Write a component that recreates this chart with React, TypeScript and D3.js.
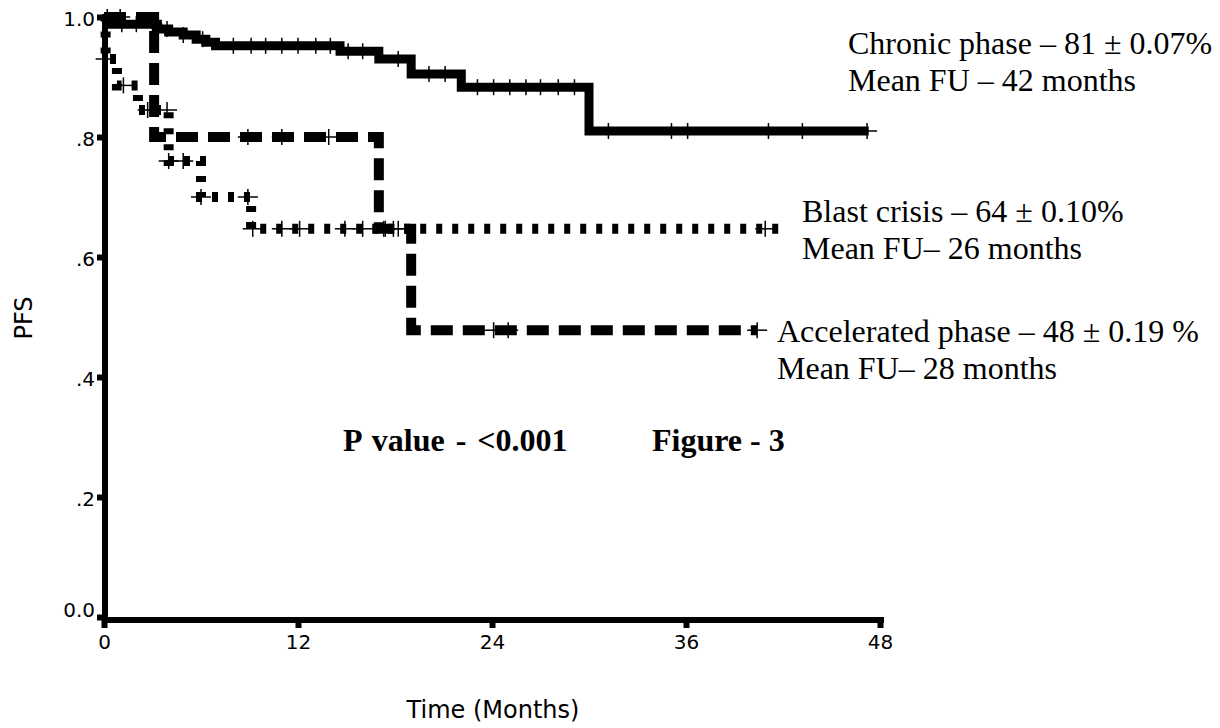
import React, { useEffect, useRef } from 'react';
import * as d3 from 'd3';

// Kaplan-Meier step points (months, PFS)
const chronicTimes = [0, 0.3, 3.3, 4.0, 4.9, 5.7, 6.3, 6.9, 14.6, 17.0, 19.0, 22.1, 30.0];
const chronicSurv = [1.0, 0.988, 0.98, 0.975, 0.97, 0.963, 0.958, 0.952, 0.943, 0.93, 0.905, 0.883, 0.81];
const chronicEnd = 47.3;
const chronicCensored = [0.2, 1.1, 2.0, 3.0, 3.9, 4.9, 6.1, 8.0, 9.1, 10.0, 11.0, 12.0, 13.1, 14.0, 15.1, 16.0, 18.2, 20.1, 21.1, 23.1, 24.1, 25.1, 26.1, 27.0, 28.1, 29.1, 31.2, 35.1, 36.1, 41.1, 43.2, 47.2];

const blastTimes = [0, 0.1, 0.8, 2.1, 4.0, 6.0, 9.1];
const blastSurv = [1.0, 0.93, 0.886, 0.845, 0.76, 0.7, 0.647];
const blastEnd = 42.3;
const blastCensored = [0.1, 1.2, 2.7, 3.9, 4.0, 4.9, 6.0, 8.9, 9.2, 11.0, 12.1, 14.9, 16.0, 17.3, 18.2, 40.9];

const accelTimes = [0, 3.1, 17.0, 19.0];
const accelSurv = [1.0, 0.8, 0.647, 0.478];
const accelEnd = 40.4;
const accelCensored = [1.0, 8.9, 11.0, 13.9, 17.4, 17.9, 24.1, 25.0, 40.4];

const xTicks = [0, 12, 24, 36, 48];
const yTicks = [0, 0.2, 0.4, 0.6, 0.8, 1.0];
const yTickLabels = ['0.0', '.2', '.4', '.6', '.8', '1.0'];

const chronicLabel = ['Chronic phase \u2013 81 \u00b1 0.07%', 'Mean FU \u2013 42 months'];
const blastLabel = ['Blast crisis \u2013 64 \u00b1 0.10%', 'Mean FU\u2013 26 months'];
const accelLabel = ['Accelerated phase \u2013 48 \u00b1 0.19 %', 'Mean FU\u2013 28 months'];
const pValueText = 'P value - <0.001';
const figureText = 'Figure - 3';

const stepValue = (times, surv, t) => {
  let v = surv[0];
  times.forEach((tt, i) => {
    if (tt <= t) v = surv[i];
  });
  return v;
};

const KMChart = () => {
  const svgRef = useRef<SVGSVGElement | null>(null);

  useEffect(() => {
    const svg = d3.select(svgRef.current);
    svg.selectAll('*').remove();

    const x = d3.scaleLinear().domain([0, 48]).range([104, 880]);
    const y = d3.scaleLinear().domain([0, 1]).range([617, 17]);

    const line = d3
      .line()
      .x((d) => x(d[0]))
      .y((d) => y(d[1]))
      .curve(d3.curveStepAfter);

    const groups = [
      { times: chronicTimes, surv: chronicSurv, end: chronicEnd, censored: chronicCensored, width: 9, dash: null },
      { times: accelTimes, surv: accelSurv, end: accelEnd, censored: accelCensored, width: 10, dash: '22 10' },
      { times: blastTimes, surv: blastSurv, end: blastEnd, censored: blastCensored, width: 10, dash: '6 10' },
    ];

    groups.forEach((g) => {
      const pts = g.times.map((t, i) => [t, g.surv[i]]);
      pts.push([g.end, g.surv[g.surv.length - 1]]);
      svg
        .append('path')
        .attr('d', line(pts))
        .attr('fill', 'none')
        .attr('stroke', '#000')
        .attr('stroke-width', g.width)
        .attr('stroke-dasharray', g.dash);

      const marks = svg.append('g');
      g.censored.forEach((t) => {
        const cx = x(t);
        const cy = y(stepValue(g.times, g.surv, t));
        marks.append('line').attr('x1', cx - 10).attr('x2', cx + 10).attr('y1', cy).attr('y2', cy)
          .attr('stroke', '#000').attr('stroke-width', 1.5);
        marks.append('line').attr('x1', cx).attr('x2', cx).attr('y1', cy - 8).attr('y2', cy + 8)
          .attr('stroke', '#000').attr('stroke-width', 1.5);
      });
    });

    // axes
    const yAxis = svg
      .append('g')
      .attr('transform', 'translate(105,0)')
      .call(d3.axisLeft(y).tickValues(yTicks).tickFormat((d, i) => yTickLabels[i]).tickSize(8).tickPadding(2));
    yAxis.select('.domain').remove();
    yAxis.selectAll('.tick line').attr('stroke', '#000').attr('stroke-width', 6);
    yAxis.selectAll('.tick text')
      .style('font-family', '"DejaVu Sans", sans-serif')
      .style('font-size', '20px')
      .attr('fill', '#000')
      .attr('dy', (d) => (d === 0 ? '-0.05em' : '0.4em'));

    const xAxis = svg
      .append('g')
      .attr('transform', 'translate(0,620)')
      .call(d3.axisBottom(x).tickValues(xTicks).tickSize(8).tickPadding(7));
    xAxis.select('.domain').remove();
    xAxis.selectAll('.tick line').attr('stroke', '#000').attr('stroke-width', 6);
    xAxis.selectAll('.tick text')
      .style('font-family', '"DejaVu Sans", sans-serif')
      .style('font-size', '20px')
      .attr('fill', '#000');

    svg.append('line').attr('x1', 105).attr('x2', 105).attr('y1', 14).attr('y2', 623)
      .attr('stroke', '#000').attr('stroke-width', 6);
    svg.append('line').attr('x1', 102).attr('x2', 884).attr('y1', 620).attr('y2', 620)
      .attr('stroke', '#000').attr('stroke-width', 6);

    svg.append('text')
      .attr('transform', 'translate(32,318) rotate(-90)')
      .attr('text-anchor', 'middle')
      .style('font-family', '"DejaVu Sans", sans-serif')
      .style('font-size', '24px')
      .text('PFS');
    svg.append('text')
      .attr('x', 493).attr('y', 718)
      .attr('text-anchor', 'middle')
      .style('font-family', '"DejaVu Sans", sans-serif')
      .style('font-size', '24px')
      .text('Time (Months)');

    const annot = (lines, ax, ay) => {
      lines.forEach((s, i) => {
        svg.append('text')
          .attr('x', ax).attr('y', ay + i * 37)
          .style('font-family', '"Liberation Serif", "Times New Roman", serif')
          .style('font-size', '32px')
          .text(s);
      });
    };
    annot(chronicLabel, 848, 54);
    annot(blastLabel, 802, 222);
    annot(accelLabel, 777, 342);

    [[pValueText, 343, 3], [figureText, 652, 0]].forEach(([s, px, ws]) => {
      svg.append('text')
        .attr('x', px).attr('y', 451)
        .style('font-family', '"Liberation Serif", "Times New Roman", serif')
        .style('font-size', '32px')
        .style('font-weight', 'bold')
        .style('word-spacing', `${ws}px`)
        .text(s);
    });
  }, []);

  return (
    <svg
      ref={svgRef}
      width={1220}
      height={728}
      style={{ position: 'absolute', left: 0, top: 0, background: '#fff' }}
    />
  );
};

export default function App() {
  return <KMChart />;
}
